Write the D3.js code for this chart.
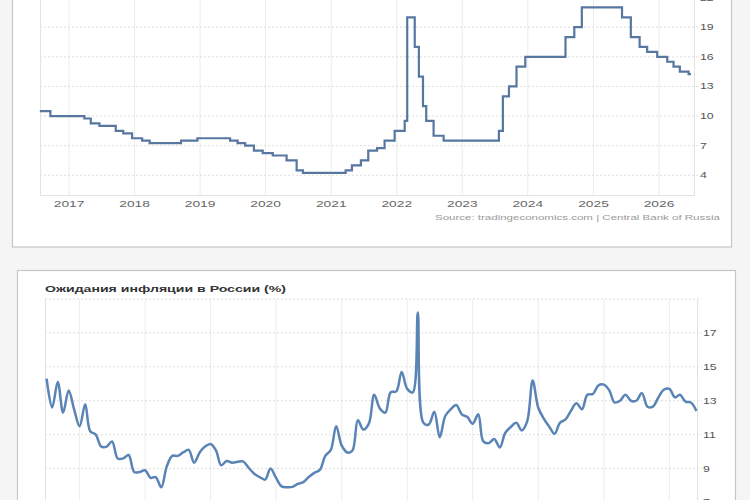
<!DOCTYPE html>
<html>
<head>
<meta charset="utf-8">
<script src="https://cdn.jsdelivr.net/npm/d3@7"></script>
<style>
  body { margin: 0; background: #f5f5f5; }
  svg { display: block; font-family: "Liberation Sans", Arial, sans-serif; }
</style>
</head>
<body>
<svg id="chart" width="750" height="500"></svg>
<script>
// key rate of the Central Bank of Russia, one entry per change
const rateDates = ["2016-07-22", "2016-09-19", "2017-03-27", "2017-05-02", "2017-06-19", "2017-09-18",
    "2017-10-30", "2017-12-18", "2018-02-12", "2018-03-26", "2018-09-17", "2018-12-17", "2019-06-17",
    "2019-07-29", "2019-09-09", "2019-10-28", "2019-12-16", "2020-02-10", "2020-04-27", "2020-06-22",
    "2020-07-27", "2021-03-22", "2021-04-26", "2021-06-15", "2021-07-26", "2021-09-13", "2021-10-25",
    "2021-12-20", "2022-02-14", "2022-02-28", "2022-04-11", "2022-05-04", "2022-05-27", "2022-06-14",
    "2022-07-25", "2022-09-19", "2023-07-24", "2023-08-15", "2023-09-18", "2023-10-30", "2023-12-18",
    "2024-07-29", "2024-09-16", "2024-10-28", "2025-06-09", "2025-07-28", "2025-09-15", "2025-10-27",
    "2025-12-22", "2026-02-16", "2026-03-23", "2026-04-27", "2026-06-15", "2026-06-28"];
const rateValues = [10.5, 10, 9.75, 9.25, 9, 8.5, 8.25, 7.75, 7.5, 7.25, 7.5, 7.75, 7.5,
    7.25, 7, 6.5, 6.25, 6, 5.5, 4.5, 4.25, 4.5, 5, 5.5, 6.5, 6.75, 7.5,
    8.5, 9.5, 20, 17, 14, 11, 9.5, 8, 7.5, 8.5, 12, 13, 15, 16,
    18, 19, 21, 20, 18, 17, 16.5, 16, 15.5, 15, 14.5, 14.25, 14.25];
const rateTicks = [4, 7, 10, 13, 16, 19, 22];
const yearLabels = [2017, 2018, 2019, 2020, 2021, 2022, 2023, 2024, 2025, 2026];

// inflation expectations, monthly from July 2016
const expStartMonth = "2016-07-01";
const expValues = [14.3, 12.6, 14.1, 12.3, 13.6, 12.5, 11.5, 12.8, 11.2, 11.0,
    10.3, 10.3, 10.6, 9.6, 9.6, 9.8, 8.8, 8.8, 8.9, 8.45,
    8.5, 7.9, 9.1, 9.75, 9.75, 9.95, 10.1, 9.35, 9.95, 10.3,
    10.45, 10.05, 9.2, 9.45, 9.35, 9.4, 9.42, 9.05, 8.7, 8.5,
    8.35, 9.0, 8.45, 7.95, 7.9, 7.92, 8.1, 8.2, 8.5, 8.75,
    8.92, 9.75, 10.1, 11.5, 10.35, 9.95, 10.05, 11.85, 11.3, 11.65,
    13.35, 12.55, 12.3, 13.5, 13.55, 14.7, 13.7, 13.5, 18.2, 11.7,
    11.6, 12.35, 10.85, 12.1, 12.5, 12.75, 12.2, 12.05, 11.65, 12.2,
    10.6, 10.5, 10.75, 10.25, 11.1, 11.45, 11.7, 11.25, 11.8, 14.2,
    12.6, 11.95, 11.5, 11.05, 11.7, 11.9, 12.4, 12.85, 12.5, 13.35,
    13.4, 13.9, 13.95, 13.6, 12.9, 13.0, 13.35, 13.0, 13.0, 13.45,
    12.65, 12.65, 13.2, 13.65, 13.7, 13.2, 13.35, 12.95, 12.9, 12.4];
const expTicks = [7, 9, 11, 13, 15, 17, 19];
const expTitle = "Ожидания инфляции в России (%)";
const sourceText = "Source: tradingeconomics.com | Central Bank of Russia";

const parse = d3.timeParse("%Y-%m-%d");
const svg = d3.select("#chart");

// the screenshot is stretched sideways, so widen the text the same way
function stretch(sel, k) {
    sel.each(function () {
        let w = this.getComputedTextLength();
        d3.select(this).attr("textLength", w * k).attr("lengthAdjust", "spacingAndGlyphs");
    });
}

// ---------- top panel: key rate ----------
svg.append("rect").attr("x", 12.5).attr("y", -20).attr("width", 719).attr("height", 267)
    .attr("fill", "#fff").attr("stroke", "#c6c6c6").attr("stroke-width", 1.2);

let x1 = d3.scaleTime().domain([parse("2016-07-23"), parse("2026-07-15")]).range([40, 694]);
let y1 = d3.scaleLinear().domain([2, 23]).range([195, -12.3]);
let g1 = svg.append("g");

g1.selectAll(".vgrid").data(yearLabels).enter().append("line")
    .attr("x1", d => x1(new Date(d, 0, 1))).attr("x2", d => x1(new Date(d, 0, 1)))
    .attr("y1", -12).attr("y2", 195)
    .attr("stroke", "#ececec");

g1.selectAll(".hgrid").data(rateTicks).enter().append("line")
    .attr("x1", 40).attr("x2", 698)
    .attr("y1", d => y1(d)).attr("y2", d => y1(d))
    .attr("stroke", "#dedede").attr("stroke-dasharray", "2,2");

g1.append("path").attr("d", "M40.5,-12V195.5H694.5V-12")
    .attr("fill", "none").attr("stroke", "#e2e2e2");

let rateData = rateDates.map((d, i) => ({date: parse(d), value: rateValues[i]}));
let rateLine = d3.line().curve(d3.curveStepAfter)
    .x(d => x1(d.date)).y(d => y1(d.value));
g1.append("path").datum(rateData)
    .attr("d", rateLine)
    .attr("fill", "none").attr("stroke", "#5777a0").attr("stroke-width", 2.2);

let yr1 = g1.selectAll(".year").data(yearLabels).enter().append("text")
    .attr("x", d => x1(new Date(d, 0, 1))).attr("y", 206.5)
    .attr("text-anchor", "middle").attr("font-size", 9.5).attr("fill", "#666")
    .text(d => d);
stretch(yr1, 1.45);

let yl1 = g1.selectAll(".ylab").data(rateTicks).enter().append("text")
    .attr("x", 700).attr("y", d => y1(d)).attr("dy", "0.35em")
    .attr("font-size", 8.5).attr("fill", "#555")
    .text(d => d);
stretch(yl1, 1.45);

g1.append("text").attr("x", 720).attr("y", 220)
    .attr("text-anchor", "end").attr("font-size", 7.5).attr("fill", "#9a9a9a")
    .attr("textLength", 285).attr("lengthAdjust", "spacingAndGlyphs")
    .text(sourceText);

// ---------- bottom panel: inflation expectations ----------
svg.append("rect").attr("x", 17.5).attr("y", 270.5).attr("width", 718).attr("height", 260)
    .attr("fill", "#fff").attr("stroke", "#c6c6c6").attr("stroke-width", 1.2);

let x2 = d3.scaleTime().domain([parse("2016-06-22"), parse("2026-06-08")]).range([45, 697.7]);
let y2 = d3.scaleLinear().domain([7, 19]).range([502.5, 299]);
let g2 = svg.append("g");

g2.selectAll(".vgrid").data(yearLabels).enter().append("line")
    .attr("x1", d => x2(new Date(d, 0, 1))).attr("x2", d => x2(new Date(d, 0, 1)))
    .attr("y1", 299).attr("y2", 510)
    .attr("stroke", "#ececec");

g2.selectAll(".hgrid").data(expTicks).enter().append("line")
    .attr("x1", 45).attr("x2", 702)
    .attr("y1", d => y2(d)).attr("y2", d => y2(d))
    .attr("stroke", "#dedede").attr("stroke-dasharray", "2,2");

g2.append("line").attr("x1", 45.5).attr("x2", 45.5).attr("y1", 299).attr("y2", 510).attr("stroke", "#e2e2e2");
g2.append("line").attr("x1", 697.5).attr("x2", 697.5).attr("y1", 299).attr("y2", 510).attr("stroke", "#e2e2e2");

let start = parse(expStartMonth);
let expData = expValues.map((v, i) => ({date: d3.timeMonth.offset(start, i), value: v}));
let expLine = d3.line().curve(d3.curveCatmullRom.alpha(0.5))
    .x(d => x2(d.date)).y(d => y2(d.value));
g2.append("path").datum(expData)
    .attr("d", expLine)
    .attr("fill", "none").attr("stroke", "#5a84b5").attr("stroke-width", 2.5)
    .attr("stroke-linejoin", "round");

// top gridline (19) has no label in the original
let yl2 = g2.selectAll(".ylab").data(expTicks.filter(d => d < 19)).enter().append("text")
    .attr("x", 703).attr("y", d => y2(d)).attr("dy", "0.35em")
    .attr("font-size", 8.5).attr("fill", "#555")
    .text(d => d);
stretch(yl2, 1.45);

g2.append("text").attr("x", 45).attr("y", 292)
    .attr("font-size", 9.5).attr("font-weight", "bold").attr("fill", "#333")
    .attr("textLength", 241).attr("lengthAdjust", "spacingAndGlyphs")
    .text(expTitle);
</script>
</body>
</html>
